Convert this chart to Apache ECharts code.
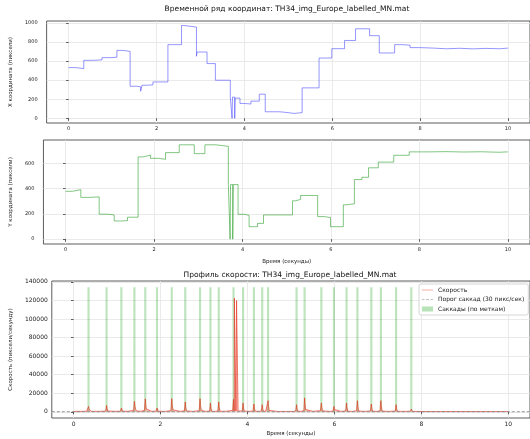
<!DOCTYPE html>
<html><head><meta charset="utf-8">
<script src="https://cdn.jsdelivr.net/npm/echarts@6/dist/echarts.min.js"></script>
<style>html,body{margin:0;padding:0;background:#fff}#c{width:530px;height:439px}</style>
</head><body><div id="c"></div>
<script>
// ---- data ----
const fileName = 'TH34_img_Europe_labelled_MN.mat';
const xTicks = [0, 2, 4, 6, 8, 10];
const xCoordTicks = [0, 200, 400, 600, 800, 1000];
const yCoordTicks = [0, 200, 400, 600];
const velTicks = [0, 20000, 40000, 60000, 80000, 100000, 120000, 140000];

// X coordinate (step, holds value until next time)
const xCoordTime = [0.00,0.15,0.345,0.55,0.76,0.95,1.10,1.25,1.40,1.55,1.64,1.67,1.80,1.92,2.26,2.57,2.62,2.91,2.925,3.15,3.34,3.68,3.72,3.73,3.78,3.79,3.90,4.00,4.15,4.34,4.475,4.80,5.00,5.13,5.315,5.70,5.99,6.28,6.53,6.85,7.07,7.42,7.60,7.77,8.00,8.30,8.60,8.90,9.20,9.50,9.80,10.00];
const xCoordVal  = [531,521,607,612,635,640,711,700,336,330,284,347,350,381,771,972,955,650,694,573,399,225,0,222,0,212,156,150,180,253,69,60,52,60,319,631,729,815,937,865,684,771,765,740,735,728,733,727,732,728,735,730];

// Y coordinate
const yCoordTime = [0.00,0.15,0.345,0.55,0.76,0.95,1.10,1.25,1.40,1.64,1.75,1.92,2.10,2.26,2.57,2.91,3.15,3.40,3.68,3.72,3.73,3.78,3.79,3.90,4.05,4.15,4.34,4.475,5.13,5.20,5.315,5.70,5.85,5.99,6.28,6.35,6.53,6.70,6.85,7.07,7.42,7.77,8.20,8.60,9.00,9.40,9.80,10.00];
const yCoordVal  = [379,392,331,335,198,192,144,147,174,651,665,640,632,685,747,677,747,735,432,0,432,0,432,197,188,99,125,192,304,315,346,179,171,99,272,280,472,490,565,610,664,691,693,690,692,688,691,690];

// Velocity samples [time, value]
const velTime = [0.00,0.10,0.20,0.30,0.33,0.345,0.355,0.37,0.40,0.55,0.74,0.76,0.77,0.79,0.95,1.08,1.10,1.11,1.13,1.25,1.38,1.40,1.41,1.425,1.45,1.55,1.63,1.65,1.66,1.675,1.70,1.80,1.90,1.92,1.93,1.95,2.10,2.24,2.26,2.27,2.29,2.32,2.45,2.55,2.57,2.58,2.60,2.75,2.89,2.91,2.92,2.94,2.96,3.05,3.13,3.15,3.16,3.18,3.25,3.32,3.34,3.35,3.37,3.50,3.66,3.68,3.69,3.695,3.70,3.72,3.735,3.75,3.77,3.785,3.82,3.88,3.90,3.91,3.93,4.05,4.13,4.15,4.16,4.18,4.25,4.32,4.34,4.35,4.37,4.42,4.46,4.475,4.485,4.50,4.53,4.70,4.90,5.05,5.11,5.13,5.14,5.16,5.25,5.30,5.315,5.325,5.34,5.37,5.50,5.68,5.70,5.71,5.73,5.76,5.90,5.97,5.99,6.00,6.02,6.15,6.26,6.28,6.29,6.31,6.42,6.51,6.53,6.54,6.56,6.70,6.83,6.85,6.86,6.88,6.98,7.05,7.07,7.08,7.10,7.25,7.40,7.42,7.43,7.45,7.60,7.75,7.77,7.78,7.80,8.00,8.50,9.00,9.50,10.00];
const velVal  = [300,500,400,600,800,5800,3000,900,500,400,700,6900,3500,800,500,600,4000,2000,600,500,1500,11300,7000,3000,800,600,1500,13900,8000,3000,900,500,600,4000,2000,600,400,1200,14200,7000,2000,600,500,1000,10600,5000,900,400,1200,14200,7000,1500,500,400,800,9500,4000,600,400,800,10600,5000,600,500,1500,13400,5000,800,122400,121500,1000,119900,119500,900,800,800,9500,4000,600,500,900,8400,4000,600,500,900,7700,3500,600,500,1500,12000,6000,1500,500,300,400,300,800,7650,3500,600,500,1500,15000,8000,2500,600,500,1200,9500,5000,1000,500,400,800,5800,2500,500,400,900,9500,4500,600,400,1200,12000,6000,800,400,900,8400,4000,600,400,1000,12000,6000,700,400,800,7700,3500,500,400,600,2900,1500,400,300,250,300,250,300];

const threshold = 30;
// labelled saccade intervals (seconds)
const sacStart = [0.32,0.735,1.075,1.375,1.625,1.895,2.235,2.545,2.885,3.125,3.315,3.655,3.875,4.125,4.315,4.45,5.105,5.29,5.675,5.965,6.255,6.505,6.825,7.045,7.395,7.745];
const sacEnd   = [0.37,0.785,1.125,1.425,1.675,1.945,2.285,2.595,2.935,3.175,3.365,3.705,3.925,4.175,4.365,4.50,5.155,5.34,5.725,6.015,6.305,6.555,6.875,7.095,7.445,7.795];
const sacTop = 134200;

// ---- chart ----
const FONT = 'DejaVu Sans';
const pairs = (t, v) => t.map((x, i) => [x, v[i]]);
const fmt = v => String(v);
function xAx(gi, size, name, gap) {
  return {
    type: 'value', gridIndex: gi, min: -0.5, max: 10.5,
    axisLine: { show: false },
    axisTick: { show: true, length: 2.5, lineStyle: { color: '#333', width: 0.8 }, customValues: xTicks },
    axisLabel: { fontSize: size, color: '#222', fontFamily: FONT, margin: 3, customValues: xTicks, formatter: fmt },
    splitLine: { show: true, lineStyle: { color: '#e4e4e4', width: 0.8 } },
    name: name, nameLocation: 'middle', nameGap: gap,
    nameTextStyle: { fontSize: 5.5, fontFamily: FONT, color: '#222' }
  };
}
function yAx(gi, min, max, ticks, size, margin, name, gap) {
  return {
    type: 'value', gridIndex: gi, min: min, max: max,
    axisLine: { show: false },
    axisTick: { show: true, length: 2.5, lineStyle: { color: '#333', width: 0.8 }, customValues: ticks },
    axisLabel: { fontSize: size, color: '#222', fontFamily: FONT, margin: margin, customValues: ticks, formatter: fmt },
    splitLine: { show: true, lineStyle: { color: '#e4e4e4', width: 0.8 } },
    name: name, nameLocation: 'middle', nameGap: gap,
    nameTextStyle: { fontSize: 5.5, fontFamily: FONT, color: '#222' }
  };
}
const gridStyle = { show: true, borderColor: '#333', borderWidth: 0.8, backgroundColor: 'transparent' };

const markAreaData = sacStart.map((s, i) => [{ coord: [s, 0] }, { coord: [sacEnd[i], sacTop] }]);

// legend icons: tiny corner dots keep the bounding box tall so the line stays thin
const solidIcon = 'path://M0,0h0.01v0.01h-0.01z M0,10h0.01v0.01h-0.01z M0,4.4h22v1.2h-22z';
const dashIcon = 'path://M0,0h0.01v0.01h-0.01z M0,10h0.01v0.01h-0.01z M0,4.4h5v1.2h-5z M8,4.4h6v1.2h-6z M17,4.4h5v1.2h-5z';

const option = {
  animation: false,
  backgroundColor: '#fff',
  textStyle: { fontFamily: FONT },
  grid: [
    Object.assign({ left: 43, top: 21, width: 491, height: 102 }, gridStyle),
    Object.assign({ left: 43, top: 140, width: 491, height: 104 }, gridStyle),
    Object.assign({ left: 47, top: 281, width: 488, height: 137 }, gridStyle)
  ],
  xAxis: [
    xAx(0, 5, '', 0),
    xAx(1, 5, 'Время (секунды)', 15),
    xAx(2, 6, 'Время (секунды)', 13)
  ],
  yAxis: [
    yAx(0, -48.5, 1018.5, xCoordTicks, 5, 9, 'X координата (пиксели)', 23),
    yAx(1, -38, 785, yCoordTicks, 5, 9, 'Y координата (пиксели)', 23),
    yAx(2, -6710, 140910, velTicks, 6, 4, 'Скорость (пиксели/секунду)', 32)
  ],
  graphic: [
    { type: 'text', x: 287, y: 9, style: { text: 'Временной ряд координат: ' + fileName, fontSize: 7.5, fontFamily: FONT, fill: '#111', align: 'center', verticalAlign: 'middle' } },
    { type: 'text', x: 290, y: 275, style: { text: 'Профиль скорости: ' + fileName, fontSize: 7.5, fontFamily: FONT, fill: '#111', align: 'center', verticalAlign: 'middle' } }
  ],
  legend: {
    orient: 'vertical', left: 419, top: 284,
    itemWidth: 11, itemHeight: 5, itemGap: 3.5,
    padding: [3, 4, 3, 3],
    backgroundColor: 'rgba(255,255,255,0.85)', borderColor: '#cccccc', borderWidth: 0.8, borderRadius: 2,
    textStyle: { fontSize: 6, fontFamily: FONT, color: '#222' },
    data: [
      { name: 'Скорость', icon: solidIcon, itemStyle: { color: 'rgba(230,40,20,0.75)' } },
      { name: 'Порог саккад (30 пикс/сек)', icon: dashIcon, itemStyle: { color: '#888' } },
      { name: 'Саккады (по меткам)', icon: 'rect', itemStyle: { color: 'rgba(0,150,0,0.28)' } }
    ]
  },
  series: [
    {
      type: 'line', name: 'X', xAxisIndex: 0, yAxisIndex: 0, step: 'end', symbol: 'none',
      data: pairs(xCoordTime, xCoordVal), lineStyle: { color: 'rgba(60,60,255,0.6)', width: 0.9 }
    },
    {
      type: 'line', name: 'Y', xAxisIndex: 1, yAxisIndex: 1, step: 'end', symbol: 'none',
      data: pairs(yCoordTime, yCoordVal), lineStyle: { color: 'rgba(0,140,0,0.55)', width: 0.9 }
    },
    {
      type: 'line', name: 'Саккады (по меткам)', xAxisIndex: 2, yAxisIndex: 2, symbol: 'none',
      data: [], itemStyle: { color: 'rgba(0,150,0,0.28)' }, lineStyle: { color: 'rgba(0,150,0,0.28)' },
      markArea: { silent: true, itemStyle: { color: 'rgba(0,150,0,0.26)' }, data: markAreaData }
    },
    {
      type: 'line', name: 'Скорость', xAxisIndex: 2, yAxisIndex: 2, symbol: 'none',
      data: pairs(velTime, velVal),
      itemStyle: { color: 'rgba(230,40,20,0.8)' },
      lineStyle: { color: 'rgba(230,40,20,0.75)', width: 0.8 },
      areaStyle: { color: 'rgba(230,40,20,0.4)' }
    },
    {
      type: 'line', name: 'Порог саккад (30 пикс/сек)', xAxisIndex: 2, yAxisIndex: 2, symbol: 'none',
      data: [[-0.5, threshold], [10.5, threshold]],
      itemStyle: { color: '#888' },
      lineStyle: { color: '#888', width: 0.9, type: [3, 2] }
    }
  ]
};
const chart = echarts.init(document.getElementById('c'), null, { renderer: 'canvas' });
chart.setOption(option);
</script></body></html>
